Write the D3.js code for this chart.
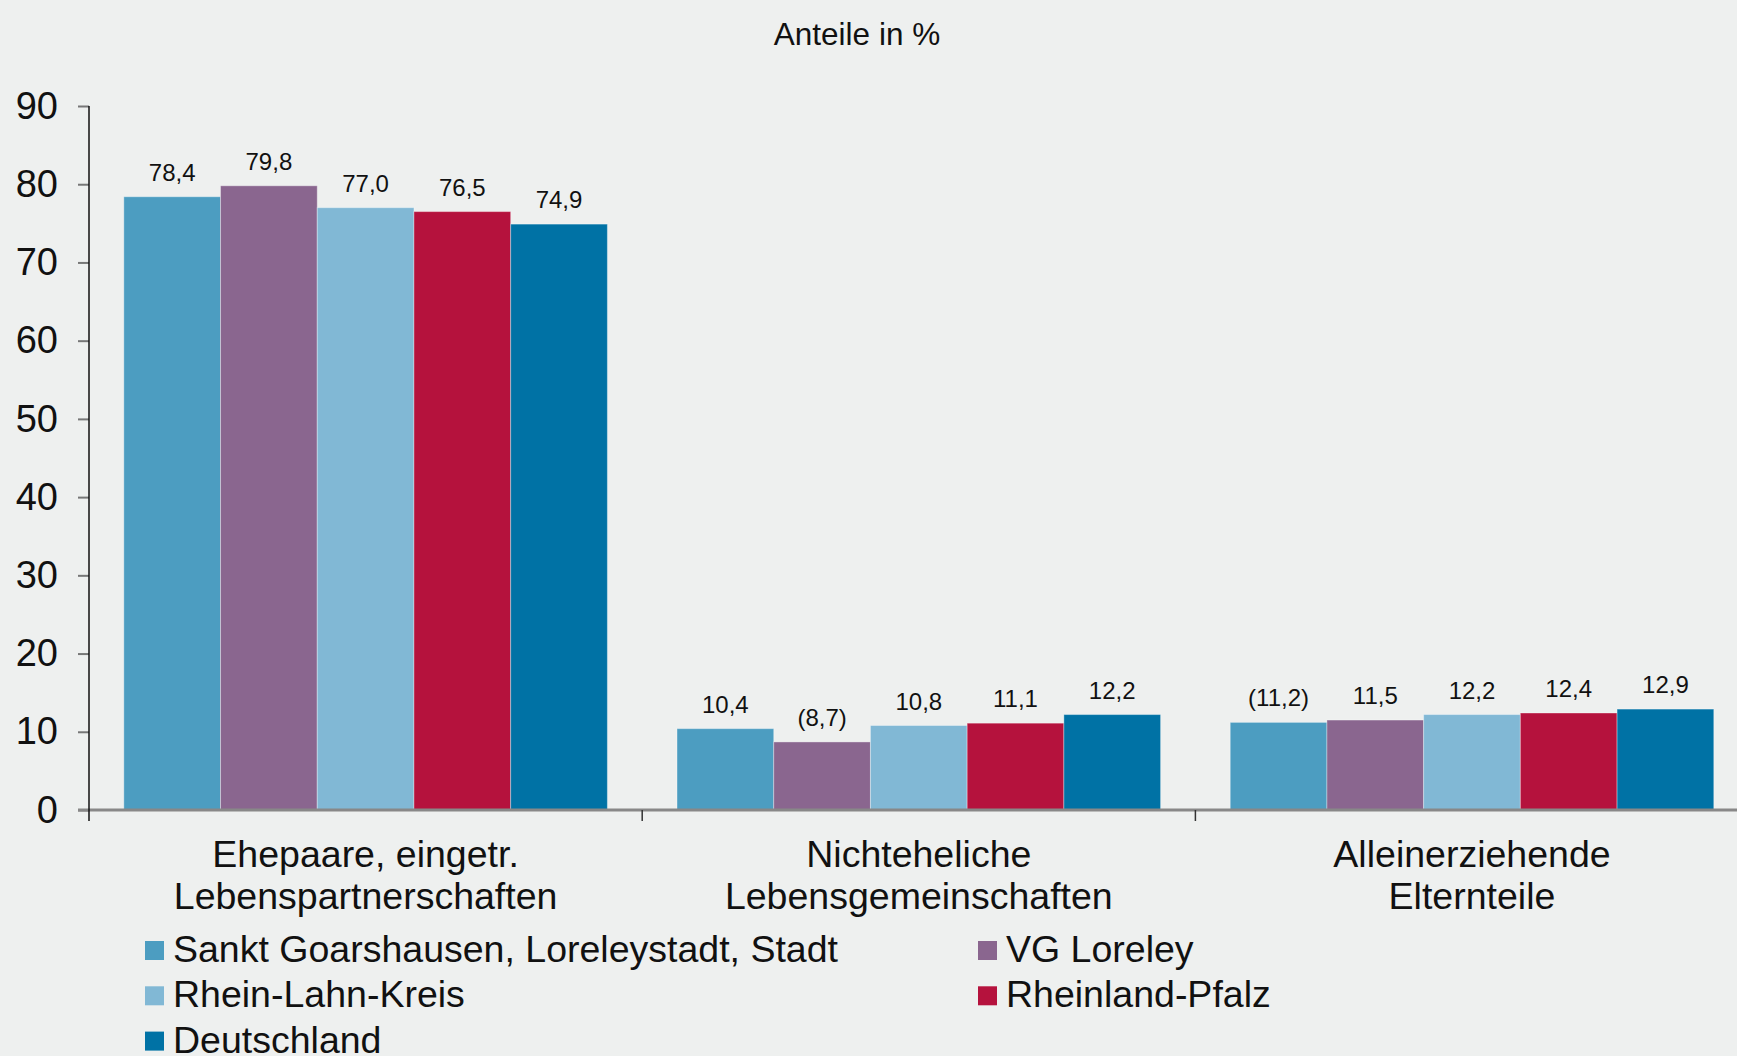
<!DOCTYPE html>
<html>
<head>
<meta charset="utf-8">
<script src="https://cdn.jsdelivr.net/npm/d3@7"></script>
<style>
  html, body { margin: 0; padding: 0; background: #eef0ef; }
  svg { display: block; font-family: "Liberation Sans", Arial, sans-serif; }
</style>
</head>
<body>
<div id="chart"></div>
<script>
// Anteile der Familienformen in %
const categories = [
  ["Ehepaare, eingetr.", "Lebenspartnerschaften"],
  ["Nichteheliche", "Lebensgemeinschaften"],
  ["Alleinerziehende", "Elternteile"]
];
const series = [
  "Sankt Goarshausen, Loreleystadt, Stadt",
  "VG Loreley",
  "Rhein-Lahn-Kreis",
  "Rheinland-Pfalz",
  "Deutschland"
];
const colors = ["#4c9dc1", "#8a668f", "#81b8d5", "#b5123d", "#0072a5"];

// values per series, in category order
const sanktGoarshausen = [78.4, 10.4, 11.2];
const vgLoreley = [79.8, 8.7, 11.5];
const rheinLahnKreis = [77.0, 10.8, 12.2];
const rheinlandPfalz = [76.5, 11.1, 12.4];
const deutschland = [74.9, 12.2, 12.9];
const seriesValues = [sanktGoarshausen, vgLoreley, rheinLahnKreis, rheinlandPfalz, deutschland];

// values shown in brackets (low case numbers): [series index, category index]
const bracketed = [[1, 1], [0, 2]];

const yTicks = [0, 10, 20, 30, 40, 50, 60, 70, 80, 90];

const width = 1737, height = 1056;
const margin = { top: 106, left: 89, bottom: 246 };

const svg = d3.select("#chart")
  .append("svg")
  .attr("width", width)
  .attr("height", height);

const x0 = d3.scaleBand()
  .domain(d3.range(categories.length))
  .range([margin.left, margin.left + 3 * 553.2]);

const x1 = d3.scaleBand()
  .domain(d3.range(series.length))
  .range([0, x0.bandwidth()])
  .paddingOuter(0.36);

const y = d3.scaleLinear()
  .domain([0, 90])
  .range([height - margin.bottom, margin.top]);

const fmt = v => d3.format(".1f")(v).replace(".", ",");

// title
svg.append("text")
  .attr("x", 857)
  .attr("y", 45)
  .attr("text-anchor", "middle")
  .attr("font-size", 31.5)
  .attr("fill", "#111")
  .text("Anteile in %");

// bars
const data = [];
seriesValues.forEach((vals, s) => vals.forEach((v, c) => data.push({ s, c, v })));

svg.append("g")
  .selectAll("rect")
  .data(data)
  .join("rect")
  .attr("x", d => x0(d.c) + x1(d.s))
  .attr("y", d => y(d.v))
  .attr("width", x1.bandwidth())
  .attr("height", d => y(0) - y(d.v))
  .attr("fill", d => colors[d.s])
  .attr("stroke", "rgba(255,255,255,0.35)")
  .attr("stroke-width", 1);

// value labels
const isBracketed = d => bracketed.some(([s, c]) => s === d.s && c === d.c);
svg.append("g")
  .selectAll("text")
  .data(data)
  .join("text")
  .attr("x", d => x0(d.c) + x1(d.s) + x1.bandwidth() / 2)
  .attr("y", d => y(d.v) - 16)
  .attr("text-anchor", "middle")
  .attr("font-size", 24)
  .attr("fill", "#111")
  .text(d => isBracketed(d) ? `(${fmt(d.v)})` : fmt(d.v));

// y axis
const yAxis = svg.append("g")
  .attr("transform", `translate(${margin.left},0)`)
  .call(d3.axisLeft(y).tickValues(yTicks).tickSize(11).tickPadding(20).tickFormat(d3.format("d")));
yAxis.select(".domain").remove();
yAxis.selectAll(".tick line").attr("stroke", "#777").attr("stroke-width", 2);
yAxis.selectAll(".tick text")
  .attr("font-size", 38)
  .attr("fill", "#111")
  .attr("font-family", "'Liberation Sans', Arial, sans-serif");

// x axis baseline
svg.append("line")
  .attr("x1", margin.left - 11)
  .attr("x2", width)
  .attr("y1", y(0))
  .attr("y2", y(0))
  .attr("stroke", "#888")
  .attr("stroke-width", 3);

// y axis line (runs down to the first category tick)
svg.append("line")
  .attr("x1", margin.left)
  .attr("x2", margin.left)
  .attr("y1", y(90))
  .attr("y2", y(0) + 11)
  .attr("stroke", "#111")
  .attr("stroke-width", 1.5);

// category separator ticks
svg.append("g")
  .selectAll("line")
  .data(d3.range(1, categories.length))
  .join("line")
  .attr("x1", d => x0(d))
  .attr("x2", d => x0(d))
  .attr("y1", y(0))
  .attr("y2", y(0) + 11)
  .attr("stroke", "#333")
  .attr("stroke-width", 1.5);

// category labels
svg.append("g")
  .selectAll("text")
  .data(categories)
  .join("text")
  .attr("x", (d, i) => x0(i) + x0.bandwidth() / 2)
  .attr("y", 867)
  .attr("text-anchor", "middle")
  .attr("font-size", 37.5)
  .attr("fill", "#111")
  .selectAll("tspan")
  .data(d => d)
  .join("tspan")
  .attr("x", function () { return this.parentNode.getAttribute("x"); })
  .attr("dy", (d, i) => i === 0 ? 0 : 42)
  .text(d => d);

// legend: two columns, filled row by row
const legendX = [145, 978];
const legend = svg.append("g")
  .selectAll("g")
  .data(series)
  .join("g")
  .attr("transform", (d, i) => `translate(${legendX[i % 2]},${941 + Math.floor(i / 2) * 45.3})`);

legend.append("rect")
  .attr("width", 19)
  .attr("height", 19)
  .attr("fill", (d, i) => colors[i]);

legend.append("text")
  .attr("x", 28)
  .attr("y", 21)
  .attr("font-size", 37.5)
  .attr("fill", "#111")
  .text(d => d);
</script>
</body>
</html>
